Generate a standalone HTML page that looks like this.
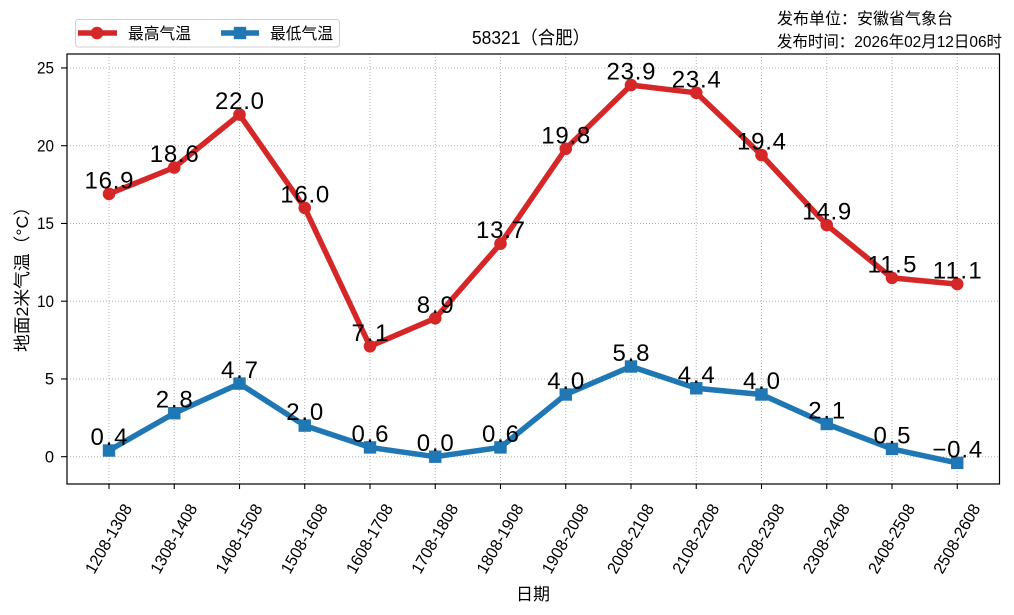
<!DOCTYPE html>
<html><head><meta charset="utf-8"><style>
html,body{margin:0;padding:0;background:#fff;}
svg{display:block;}
text{font-family:"Liberation Sans","Noto Sans CJK SC",sans-serif;fill:#000;}
</style></head><body>
<svg width="1014" height="615" viewBox="0 0 1014 615" xmlns="http://www.w3.org/2000/svg">
<rect width="1014" height="615" fill="#fff"/>
<!-- grid -->
<g stroke="#b0b0b0" stroke-width="1" stroke-dasharray="1,2">
<line x1="109" y1="54" x2="109" y2="484"/><line x1="174.25" y1="54" x2="174.25" y2="484"/><line x1="239.5" y1="54" x2="239.5" y2="484"/><line x1="304.75" y1="54" x2="304.75" y2="484"/><line x1="370" y1="54" x2="370" y2="484"/><line x1="435.25" y1="54" x2="435.25" y2="484"/><line x1="500.5" y1="54" x2="500.5" y2="484"/><line x1="565.75" y1="54" x2="565.75" y2="484"/><line x1="631" y1="54" x2="631" y2="484"/><line x1="696.25" y1="54" x2="696.25" y2="484"/><line x1="761.5" y1="54" x2="761.5" y2="484"/><line x1="826.75" y1="54" x2="826.75" y2="484"/><line x1="892" y1="54" x2="892" y2="484"/><line x1="957.25" y1="54" x2="957.25" y2="484"/>
<line x1="67" y1="456.7" x2="1000" y2="456.7"/><line x1="67" y1="378.95" x2="1000" y2="378.95"/><line x1="67" y1="301.2" x2="1000" y2="301.2"/><line x1="67" y1="223.45" x2="1000" y2="223.45"/><line x1="67" y1="145.7" x2="1000" y2="145.7"/><line x1="67" y1="67.95" x2="1000" y2="67.95"/>
</g>
<!-- axes -->
<rect x="67" y="54" width="932.5" height="430" fill="none" stroke="#000" stroke-width="1.2"/>
<g stroke="#000" stroke-width="1.1">
<line x1="61" y1="456.7" x2="67" y2="456.7"/><line x1="61" y1="378.95" x2="67" y2="378.95"/><line x1="61" y1="301.2" x2="67" y2="301.2"/><line x1="61" y1="223.45" x2="67" y2="223.45"/><line x1="61" y1="145.7" x2="67" y2="145.7"/><line x1="61" y1="67.95" x2="67" y2="67.95"/>
<line x1="109" y1="484" x2="109" y2="489"/><line x1="174.25" y1="484" x2="174.25" y2="489"/><line x1="239.5" y1="484" x2="239.5" y2="489"/><line x1="304.75" y1="484" x2="304.75" y2="489"/><line x1="370" y1="484" x2="370" y2="489"/><line x1="435.25" y1="484" x2="435.25" y2="489"/><line x1="500.5" y1="484" x2="500.5" y2="489"/><line x1="565.75" y1="484" x2="565.75" y2="489"/><line x1="631" y1="484" x2="631" y2="489"/><line x1="696.25" y1="484" x2="696.25" y2="489"/><line x1="761.5" y1="484" x2="761.5" y2="489"/><line x1="826.75" y1="484" x2="826.75" y2="489"/><line x1="892" y1="484" x2="892" y2="489"/><line x1="957.25" y1="484" x2="957.25" y2="489"/>
</g>
<!-- y tick labels -->
<g font-size="16.5" text-anchor="end">
<text x="54" y="462.5">0</text><text x="54" y="384.7">5</text><text x="54" y="307" textLength="17" lengthAdjust="spacingAndGlyphs">10</text><text x="54" y="229.2" textLength="17" lengthAdjust="spacingAndGlyphs">15</text><text x="54" y="151.5" textLength="17" lengthAdjust="spacingAndGlyphs">20</text><text x="54" y="73.7" textLength="17" lengthAdjust="spacingAndGlyphs">25</text>
</g>
<!-- x tick labels -->
<g font-size="16.5" text-anchor="middle" dominant-baseline="central">
<text transform="translate(109,539) rotate(-60)" textLength="77" lengthAdjust="spacingAndGlyphs">1208-1308</text>
<text transform="translate(174.25,539) rotate(-60)" textLength="77" lengthAdjust="spacingAndGlyphs">1308-1408</text>
<text transform="translate(239.5,539) rotate(-60)" textLength="77" lengthAdjust="spacingAndGlyphs">1408-1508</text>
<text transform="translate(304.75,539) rotate(-60)" textLength="77" lengthAdjust="spacingAndGlyphs">1508-1608</text>
<text transform="translate(370,539) rotate(-60)" textLength="77" lengthAdjust="spacingAndGlyphs">1608-1708</text>
<text transform="translate(435.25,539) rotate(-60)" textLength="77" lengthAdjust="spacingAndGlyphs">1708-1808</text>
<text transform="translate(500.5,539) rotate(-60)" textLength="77" lengthAdjust="spacingAndGlyphs">1808-1908</text>
<text transform="translate(565.75,539) rotate(-60)" textLength="77" lengthAdjust="spacingAndGlyphs">1908-2008</text>
<text transform="translate(631,539) rotate(-60)" textLength="77" lengthAdjust="spacingAndGlyphs">2008-2108</text>
<text transform="translate(696.25,539) rotate(-60)" textLength="77" lengthAdjust="spacingAndGlyphs">2108-2208</text>
<text transform="translate(761.5,539) rotate(-60)" textLength="77" lengthAdjust="spacingAndGlyphs">2208-2308</text>
<text transform="translate(826.75,539) rotate(-60)" textLength="77" lengthAdjust="spacingAndGlyphs">2308-2408</text>
<text transform="translate(892,539) rotate(-60)" textLength="77" lengthAdjust="spacingAndGlyphs">2408-2508</text>
<text transform="translate(957.25,539) rotate(-60)" textLength="77" lengthAdjust="spacingAndGlyphs">2508-2608</text>
</g>
<!-- axis labels / title -->
<text x="533" y="600" font-size="17" text-anchor="middle">日期</text>
<text transform="translate(28,275) rotate(-90)" font-size="17" text-anchor="middle" textLength="154" lengthAdjust="spacingAndGlyphs">地面2米气温（°C）</text>
<text x="531" y="44" font-size="18" text-anchor="middle" textLength="118" lengthAdjust="spacingAndGlyphs">58321（合肥）</text>
<text x="777" y="24" font-size="16" textLength="176" lengthAdjust="spacingAndGlyphs">发布单位：安徽省气象台</text>
<text x="777" y="47" font-size="16" textLength="225" lengthAdjust="spacingAndGlyphs">发布时间：2026年02月12日06时</text>
<!-- series -->
<polyline fill="none" stroke="#d62728" stroke-width="5.5" stroke-linejoin="round" points="109,193.9 174.25,167.5 239.5,114.6 304.75,207.9 370,346.3 435.25,318.3 500.5,243.7 565.75,148.8 631,85.1 696.25,92.8 761.5,155 826.75,225 892,277.9 957.25,284.1"/>
<g fill="#d62728">
<circle cx="109" cy="193.9" r="6.3"/><circle cx="174.25" cy="167.5" r="6.3"/><circle cx="239.5" cy="114.6" r="6.3"/><circle cx="304.75" cy="207.9" r="6.3"/><circle cx="370" cy="346.3" r="6.3"/><circle cx="435.25" cy="318.3" r="6.3"/><circle cx="500.5" cy="243.7" r="6.3"/><circle cx="565.75" cy="148.8" r="6.3"/><circle cx="631" cy="85.1" r="6.3"/><circle cx="696.25" cy="92.8" r="6.3"/><circle cx="761.5" cy="155" r="6.3"/><circle cx="826.75" cy="225" r="6.3"/><circle cx="892" cy="277.9" r="6.3"/><circle cx="957.25" cy="284.1" r="6.3"/>
</g>
<polyline fill="none" stroke="#1f77b4" stroke-width="5.5" stroke-linejoin="round" points="109,450.5 174.25,413.2 239.5,383.6 304.75,425.6 370,447.4 435.25,456.7 500.5,447.4 565.75,394.5 631,366.5 696.25,388.3 761.5,394.5 826.75,424 892,448.9 957.25,462.9"/>
<g fill="#1f77b4">
<rect x="102.8" y="444.3" width="12.4" height="12.4"/><rect x="168.05" y="407" width="12.4" height="12.4"/><rect x="233.3" y="377.4" width="12.4" height="12.4"/><rect x="298.55" y="419.4" width="12.4" height="12.4"/><rect x="363.8" y="441.2" width="12.4" height="12.4"/><rect x="429.05" y="450.5" width="12.4" height="12.4"/><rect x="494.3" y="441.2" width="12.4" height="12.4"/><rect x="559.55" y="388.3" width="12.4" height="12.4"/><rect x="624.8" y="360.3" width="12.4" height="12.4"/><rect x="690.05" y="382.1" width="12.4" height="12.4"/><rect x="755.3" y="388.3" width="12.4" height="12.4"/><rect x="820.55" y="417.8" width="12.4" height="12.4"/><rect x="885.8" y="442.7" width="12.4" height="12.4"/><rect x="951.05" y="456.7" width="12.4" height="12.4"/>
</g>
<!-- data labels -->
<g font-size="24" text-anchor="middle" lengthAdjust="spacing">
<text x="109" y="188.4" textLength="49">16.9</text><text x="174.25" y="162" textLength="49">18.6</text><text x="239.5" y="109.1" textLength="49">22.0</text><text x="304.75" y="202.4" textLength="49">16.0</text><text x="370" y="340.8" textLength="37">7.1</text><text x="435.25" y="312.8" textLength="37">8.9</text><text x="500.5" y="238.2" textLength="49">13.7</text><text x="565.75" y="143.3" textLength="49">19.8</text><text x="631" y="79.6" textLength="49">23.9</text><text x="696.25" y="87.3" textLength="49">23.4</text><text x="761.5" y="149.5" textLength="49">19.4</text><text x="826.75" y="219.5" textLength="49">14.9</text><text x="892" y="272.4" textLength="49">11.5</text><text x="957.25" y="278.6" textLength="49">11.1</text>
<text x="109" y="445" textLength="37">0.4</text><text x="174.25" y="407.7" textLength="37">2.8</text><text x="239.5" y="378.1" textLength="37">4.7</text><text x="304.75" y="420.1" textLength="37">2.0</text><text x="370" y="441.9" textLength="37">0.6</text><text x="435.25" y="451.2" textLength="37">0.0</text><text x="500.5" y="441.9" textLength="37">0.6</text><text x="565.75" y="389" textLength="37">4.0</text><text x="631" y="361" textLength="37">5.8</text><text x="696.25" y="382.8" textLength="37">4.4</text><text x="761.5" y="389" textLength="37">4.0</text><text x="826.75" y="418.5" textLength="37">2.1</text><text x="892" y="443.4" textLength="37">0.5</text><text x="957.25" y="457.4" textLength="50">−0.4</text>
</g>
<!-- legend -->
<rect x="75.5" y="19.5" width="264" height="27.5" rx="3" fill="#fff" fill-opacity="0.8" stroke="#d0d0d0" stroke-width="1"/>
<line x1="78" y1="33" x2="117" y2="33" stroke="#d62728" stroke-width="5.5"/>
<circle cx="97" cy="33" r="6.3" fill="#d62728"/>
<text x="128" y="39" font-size="16" textLength="63" lengthAdjust="spacingAndGlyphs">最高气温</text>
<line x1="221" y1="33" x2="259" y2="33" stroke="#1f77b4" stroke-width="5.5"/>
<rect x="233.8" y="26.8" width="12.4" height="12.4" fill="#1f77b4"/>
<text x="270" y="39" font-size="16" textLength="63" lengthAdjust="spacingAndGlyphs">最低气温</text>
</svg>
</body></html>
